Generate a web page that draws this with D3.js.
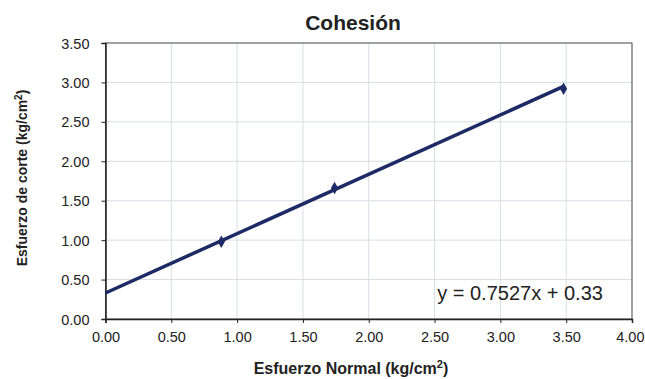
<!DOCTYPE html>
<html>
<head>
<meta charset="utf-8">
<script src="https://cdn.jsdelivr.net/npm/d3@7"></script>
<style>
  body { margin: 0; background: #fff; }
  text { font-family: "Liberation Sans", Arial, sans-serif; fill: #222; }
</style>
</head>
<body>
<div id="chart"></div>
<script>
// datos
const normalStress = [0.88, 1.74, 3.48];
const shearStress = [0.98, 1.66, 2.92];
const slope = 0.7527;
const intercept = 0.33;
const xTicks = [0, 0.5, 1, 1.5, 2, 2.5, 3, 3.5, 4];
const yTicks = [0, 0.5, 1, 1.5, 2, 2.5, 3, 3.5];

const width = 645, height = 379;
const margin = { top: 43, right: 13, bottom: 60, left: 105.5 };
const w = width - margin.left - margin.right;
const h = height - margin.top - margin.bottom;

const svg = d3.select('#chart').append('svg')
  .attr('width', width)
  .attr('height', height);

const g = svg.append('g')
  .attr('transform', `translate(${margin.left},${margin.top})`);

const x = d3.scaleLinear().domain([0, 4]).range([0, w]);
const y = d3.scaleLinear().domain([0, 3.5]).range([h, 0]);

// grid
g.append('g').selectAll('line.v').data(xTicks.slice(1)).enter().append('line')
  .attr('x1', d => x(d)).attr('x2', d => x(d))
  .attr('y1', 0).attr('y2', h)
  .attr('stroke', '#d8dde3').attr('stroke-width', 1);
g.append('g').selectAll('line.h').data(yTicks.slice(1)).enter().append('line')
  .attr('x1', 0).attr('x2', w)
  .attr('y1', d => y(d)).attr('y2', d => y(d))
  .attr('stroke', '#d8dde3').attr('stroke-width', 1);

// borde
g.append('rect')
  .attr('width', w).attr('height', h)
  .attr('fill', 'none').attr('stroke', '#555').attr('stroke-width', 1);

// ejes
const xAxis = g.append('g')
  .attr('transform', `translate(0,${h})`)
  .call(d3.axisBottom(x).tickValues(xTicks).tickFormat(d3.format('.2f')).tickSizeOuter(0).tickSize(4));
const yAxis = g.append('g')
  .call(d3.axisLeft(y).tickValues(yTicks).tickFormat(d3.format('.2f')).tickSizeOuter(0).tickSize(4));
[xAxis, yAxis].forEach(a => {
  a.select('.domain').attr('stroke', '#222').attr('stroke-width', 1.5);
  a.selectAll('.tick line').attr('stroke', '#222');
  a.selectAll('.tick text').attr('font-size', 14.5).attr('fill', '#222')
    .attr('font-family', '"Liberation Sans", Arial, sans-serif');
});
xAxis.selectAll('.tick text').attr('y', 23).attr('dy', 0);
// la última etiqueta queda pegada al borde, como en el original
xAxis.selectAll('.tick text').filter(d => d === 4).attr('text-anchor', 'end').attr('x', margin.right - 1);
yAxis.selectAll('.tick text').attr('x', -16).attr('dy', '0.35em');

// línea de tendencia
const xEnd = d3.max(normalStress);
g.append('line')
  .attr('x1', x(0)).attr('y1', y(intercept))
  .attr('x2', x(xEnd)).attr('y2', y(slope * xEnd + intercept))
  .attr('stroke', '#1d2a66').attr('stroke-width', 3.5);

// puntos
g.selectAll('path.pt').data(normalStress).enter().append('path')
  .attr('d', d3.symbol(d3.symbolDiamond, 45))
  .attr('transform', (d, i) => `translate(${x(d)},${y(shearStress[i])})`)
  .attr('fill', '#1d2a66');

// ecuación
g.append('text')
  .attr('x', x(2.52)).attr('y', y(0.24))
  .attr('font-size', 20)
  .text('y = 0.7527x + 0.33');

// títulos
svg.append('text')
  .attr('x', 353).attr('y', 30)
  .attr('text-anchor', 'middle')
  .attr('font-size', 21).attr('font-weight', 'bold')
  .text('Cohesión');

svg.append('text')
  .attr('x', 351).attr('y', 374)
  .attr('text-anchor', 'middle')
  .attr('font-size', 16).attr('font-weight', 'bold')
  .html('Esfuerzo Normal (kg/cm<tspan baseline-shift="super" font-size="11">2</tspan>)');

svg.append('text')
  .attr('transform', `translate(27,178) rotate(-90)`)
  .attr('text-anchor', 'middle')
  .attr('font-size', 14).attr('font-weight', 'bold')
  .html('Esfuerzo de corte (kg/cm<tspan baseline-shift="super" font-size="10">2</tspan>)');
</script>
</body>
</html>
